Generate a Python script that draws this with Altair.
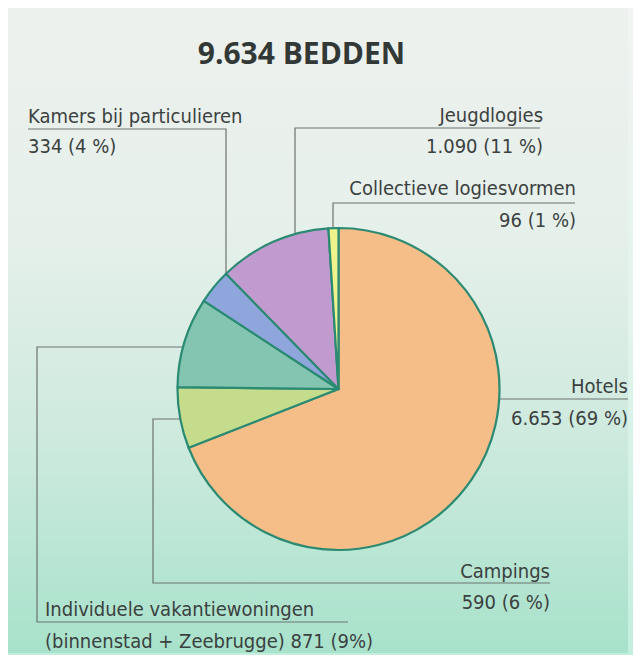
import altair as alt
import pandas as pd

# ---- data ----
categories = ["Hotels", "Campings", "Individuele vakantiewoningen", "Kamers bij particulieren",
              "Jeugdlogies", "Collectieve logiesvormen"]
beds = [6653, 590, 871, 334, 1090, 96]
slice_colors = ["#f5bd87", "#c4dc8c", "#84c5b2", "#8fa6dd", "#c19bd0", "#eef38c"]
title_text = "9.634 BEDDEN"

# label texts: (line1, line2)
label_lines = {
    "Kamers bij particulieren": ("Kamers bij particulieren", "334 (4 %)"),
    "Jeugdlogies": ("Jeugdlogies", "1.090 (11 %)"),
    "Collectieve logiesvormen": ("Collectieve logiesvormen", "96 (1 %)"),
    "Hotels": ("Hotels", "6.653 (69 %)"),
    "Campings": ("Campings", "590 (6 %)"),
    "Individuele vakantiewoningen": ("Individuele vakantiewoningen", "(binnenstad + Zeebrugge) 871 (9%)"),
}

# ---- layout (pixel positions in the drawing area) ----
W, H = 625, 647
CX, CY, R = 330.5, 381, 161
FONT = "DejaVu Sans Condensed, Liberation Sans Narrow, sans-serif"
TXT = "#3b413f"
LINE = "#6d7270"

label_pos = {  # name: (x, y_line1, y_line2, align)
    "Kamers bij particulieren": (20, 115, 145, "left"),
    "Jeugdlogies": (535, 114, 145, "right"),
    "Collectieve logiesvormen": (568, 187, 219, "right"),
    "Hotels": (620, 385, 417, "right"),
    "Campings": (542, 570, 601, "right"),
    "Individuele vakantiewoningen": (37, 608, 640, "left"),
}
leaders = {
    "Kamers bij particulieren": [(20, 121), (218, 121), (218, 283)],
    "Jeugdlogies": [(532, 120), (287, 120), (287, 245)],
    "Collectieve logiesvormen": [(567, 195), (325, 195), (325, 219)],
    "Hotels": [(469, 391), (620, 391)],
    "Campings": [(197, 411), (145, 411), (145, 575), (542, 575)],
    "Individuele vakantiewoningen": [(210, 339), (29, 339), (29, 614), (340, 614)],
}

xs = alt.Scale(domain=[0, W], nice=False, zero=False)
ys = alt.Scale(domain=[0, H], nice=False, zero=False, reverse=True)

one = pd.DataFrame({"a": [0]})

outer = alt.Chart(one).mark_rect(
    fill=alt.Gradient(gradient="linear", x1=0, y1=0, x2=0, y2=1,
                      stops=[alt.GradientStop(color="#f1f4f2", offset=0),
                             alt.GradientStop(color="#e2f4ec", offset=0.5),
                             alt.GradientStop(color="#c3eedd", offset=1)])
).encode(x=alt.value(0), x2=alt.value(W), y=alt.value(0), y2=alt.value(H))

panel = alt.Chart(one).mark_rect(
    fill=alt.Gradient(gradient="linear", x1=0, y1=0, x2=0, y2=1,
                      stops=[alt.GradientStop(color="#edf1ee", offset=0),
                             alt.GradientStop(color="#e6f0eb", offset=0.35),
                             alt.GradientStop(color="#cfeadf", offset=0.65),
                             alt.GradientStop(color="#a8e2cb", offset=1)])
).encode(x=alt.value(0), x2=alt.value(620), y=alt.value(0), y2=alt.value(645))

pie_df = pd.DataFrame({"cat": categories, "beds": beds, "idx": list(range(len(categories)))})
pie = alt.Chart(pie_df).mark_arc(radius=R, stroke="#2a8a72", strokeWidth=2.2, strokeJoin="round").encode(
    theta=alt.Theta("beds:Q", stack=True),
    color=alt.Color("cat:N", scale=alt.Scale(domain=categories, range=slice_colors), legend=None),
    order=alt.Order("idx:Q"),
    x=alt.value(CX), y=alt.value(CY),
)

lrows = []
for name, pts in leaders.items():
    for i, (px, py) in enumerate(pts):
        lrows.append({"g": name, "o": i, "x": px, "y": py})
lines = alt.Chart(pd.DataFrame(lrows)).mark_line(color=LINE, strokeWidth=1.2, interpolate="linear").encode(
    x=alt.X("x:Q", scale=xs, axis=None),
    y=alt.Y("y:Q", scale=ys, axis=None),
    detail="g:N",
    order="o:Q",
)

def text_layer(align):
    rows = []
    for name, (l1, l2) in label_lines.items():
        px, y1, y2, al = label_pos[name]
        if al != align:
            continue
        rows.append({"t": l1, "x": px, "y": y1})
        rows.append({"t": l2, "x": px, "y": y2})
    return alt.Chart(pd.DataFrame(rows)).mark_text(
        align=align, baseline="alphabetic", font=FONT, fontSize=20, color=TXT
    ).encode(
        x=alt.X("x:Q", scale=xs, axis=None),
        y=alt.Y("y:Q", scale=ys, axis=None),
        text="t:N",
    )

title = alt.Chart(pd.DataFrame({"t": [title_text], "x": [293.5], "y": [56]})).mark_text(
    align="center", baseline="alphabetic", font="Open Sans", fontWeight="bold", fontSize=30, color="#323836"
).encode(
    x=alt.X("x:Q", scale=xs, axis=None),
    y=alt.Y("y:Q", scale=ys, axis=None),
    text="t:N",
)

chart = alt.layer(outer, panel, lines, pie, text_layer("left"), text_layer("right"), title).properties(
    width=W, height=H, padding=0, autosize="none", background="#ffffff"
).configure_view(stroke=None)

chart.save("out.html", embed_options={"renderer": "svg", "actions": False})
